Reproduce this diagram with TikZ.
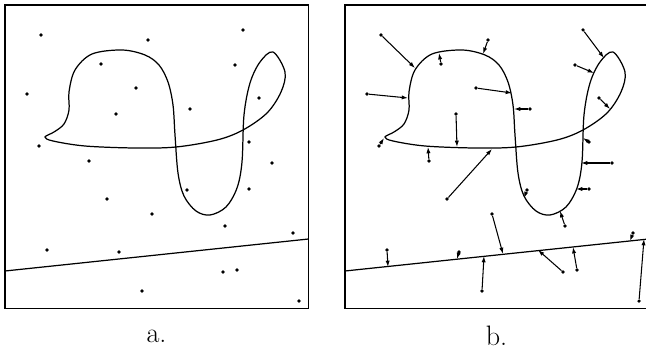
\documentclass[tikz,border=0pt]{standalone}
\usepackage{tikz}
\usetikzlibrary{arrows.meta}

\begin{document}
\begin{tikzpicture}[
    x=0.02cm, y=-0.02cm,
    panel/.style={draw, line width=1pt},
    wire/.style={line width=0.7pt},
    sample/.style={circle, fill=black, inner sep=0pt, minimum size=2pt},
    arr/.style={-{Latex[length=3.6pt,width=2.4pt]}, line width=0.6pt},
    lbl/.style={font=\fontsize{16}{19}\selectfont, inner sep=0pt}
]
\useasboundingbox (0,0) rectangle (646,348);
\clip (0,0) rectangle (646,348);
% the two panels, same curve and line in each
\foreach \dx in {0,340}{
  \begin{scope}[shift={(\dx,0)}]
    \draw[panel] (5,5) rectangle (308.5,308.5);
    \draw[wire] plot[smooth cycle, tension=0.55] coordinates {
      (45,137) (53,141) (85,146) (135,148) (176,147) (217,140) (243,130)
      (267,113) (281,92) (285,72) (273,52) (260,62) (250,83) (244,115)
      (242,162) (237,188) (226,207) (210,215) (196,211) (184,196)
      (178,173) (175,135) (173,105) (168,82) (159,65) (145,55) (122,50)
      (92,54) (75,70) (69,92) (69,110) (64,124) (54,132)};
    \draw[wire] (5,271) -- (308.5,239);
  \end{scope}
}
\node[lbl] (la) at (156.5,336) {a.};
\node[lbl] (lb) at (496.5,336) {b.};
% sample points and their nearest points on the curve
\foreach \i/\px/\py/\fx/\fy in {
    1/41/35/75/68, 2/148/40/143/54, 3/243/30/264/58, 4/101/64/99/53,
    5/235/65/254/73, 6/27/94/68/98, 7/136/88/172/93, 8/259/98/270/109,
    9/190/109/174/109, 10/116/114/117/147, 11/39/146/44/138,
    12/249/142/243/138, 13/89/161/88/147, 14/272/163/241/163,
    15/187/190/184/198, 16/249/189/236/189, 17/107/199/152/149,
    18/152/214/163/254, 19/225/226/220/211, 20/293/233/290/241,
    21/47/250/48/267, 22/119/252/117/259, 23/223/272/198/250,
    24/237/270/233/247, 25/142/291/144/256, 26/299/301/304/239}{
  \node[sample] (a\i) at (\px,\py) {};
  \node[sample] (b\i) at (\px+340,\py) {};
  \coordinate (f\i) at (\fx+340,\fy);
  \draw[arr] (b\i) -- (f\i);
}
\end{tikzpicture}
\end{document}
